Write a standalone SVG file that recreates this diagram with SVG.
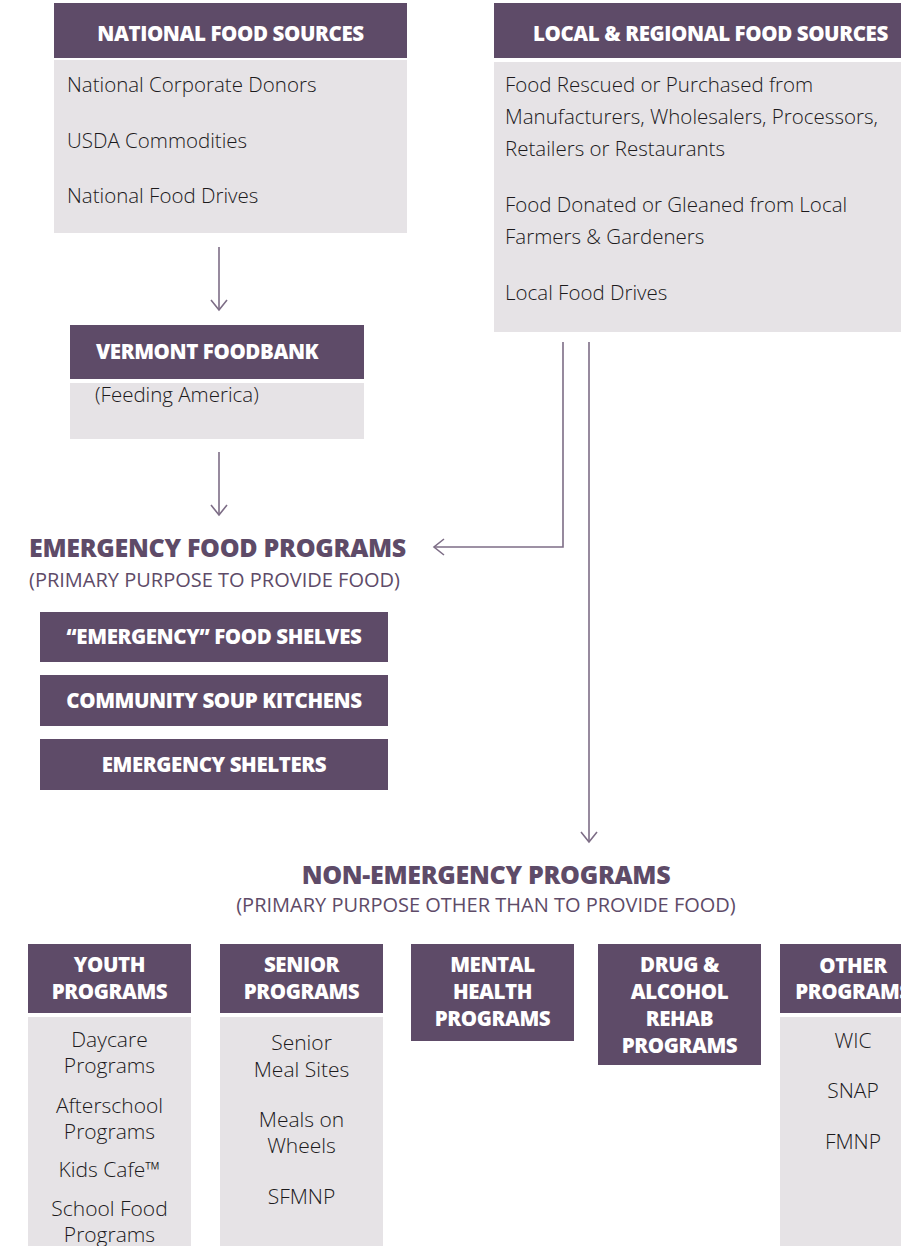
<svg xmlns="http://www.w3.org/2000/svg" width="901" height="1246" viewBox="0 0 901 1246">
<defs>
<style>
.hd{fill:#5e4b68}
.bd{fill:#e6e3e6}
.ht{font-family:"Open Sans","Liberation Sans",sans-serif;font-weight:800;font-size:20.5px;fill:#ffffff;letter-spacing:-0.4px}
.htc{text-anchor:middle}
.bt{font-family:"Open Sans","Liberation Sans",sans-serif;font-weight:300;font-size:20.5px;fill:#1c1a1c}
.bs{font-size:21px}
.btc{text-anchor:middle}
.title{font-family:"Open Sans","Liberation Sans",sans-serif;font-weight:800;font-size:25px;fill:#5e4b68;letter-spacing:-0.3px}
.sub{font-family:"Open Sans","Liberation Sans",sans-serif;font-weight:400;font-size:20px;fill:#5e4b68}
.conn{fill:none;stroke:#7d6d86;stroke-width:1.6}
</style>
<marker id="arr" markerUnits="userSpaceOnUse" viewBox="-12 -10 14 20" refX="0" refY="0" markerWidth="14" markerHeight="20" orient="auto">
<path d="M-10,-8 L0,0 L-10,8" fill="none" stroke="#7d6d86" stroke-width="1.6"/>
</marker>
</defs>
<rect width="901" height="1246" fill="#ffffff"/>

<g id="national">
<rect class="hd" x="54" y="3" width="353" height="55"/>
<rect class="bd" x="54" y="60" width="353" height="173"/>
<text class="ht htc" x="230.5" y="41">NATIONAL FOOD SOURCES</text>
<text class="bt" x="67" y="92">National Corporate Donors</text>
<text class="bt" x="67" y="148">USDA Commodities</text>
<text class="bt" x="67" y="203">National Food Drives</text>
</g>

<g id="local">
<rect class="hd" x="494" y="3" width="407" height="55"/>
<rect class="bd" x="494" y="62" width="407" height="270"/>
<text class="ht" x="533" y="41">LOCAL &amp; REGIONAL FOOD SOURCES</text>
<text class="bt" x="505" y="92">Food Rescued or Purchased from</text>
<text class="bt" x="505" y="124">Manufacturers, Wholesalers, Processors,</text>
<text class="bt" x="505" y="156">Retailers or Restaurants</text>
<text class="bt" x="505" y="212">Food Donated or Gleaned from Local</text>
<text class="bt" x="505" y="244">Farmers &amp; Gardeners</text>
<text class="bt" x="505" y="300">Local Food Drives</text>
</g>

<g id="vermont">
<rect class="hd" x="70" y="325" width="294" height="54"/>
<rect class="bd" x="70" y="383" width="294" height="56"/>
<text class="ht" x="96" y="359">VERMONT FOODBANK</text>
<text class="bt" x="95" y="402">(Feeding America)</text>
</g>

<g id="emergency">
<text class="title" x="29" y="557">EMERGENCY FOOD PROGRAMS</text>
<text class="sub" x="29" y="587">(PRIMARY PURPOSE TO PROVIDE FOOD)</text>
</g>

<g id="food-shelves">
<rect class="hd" x="40" y="612" width="348" height="50"/>
<text class="ht htc" x="214" y="644">“EMERGENCY” FOOD SHELVES</text>
</g>
<g id="soup-kitchens">
<rect class="hd" x="40" y="675" width="348" height="51"/>
<text class="ht htc" x="214" y="708">COMMUNITY SOUP KITCHENS</text>
</g>
<g id="shelters">
<rect class="hd" x="40" y="739" width="348" height="51"/>
<text class="ht htc" x="214" y="772">EMERGENCY SHELTERS</text>
</g>

<g id="non-emergency">
<text class="title" x="486" y="884" text-anchor="middle">NON-EMERGENCY PROGRAMS</text>
<text class="sub" x="486" y="912" text-anchor="middle">(PRIMARY PURPOSE OTHER THAN TO PROVIDE FOOD)</text>
</g>

<g id="youth">
<rect class="hd" x="28" y="944" width="163" height="69"/>
<rect class="bd" x="28" y="1017" width="163" height="229"/>
<text class="ht htc" x="109.5" y="972">YOUTH</text>
<text class="ht htc" x="109.5" y="999">PROGRAMS</text>
<text class="bt bs btc" x="109.5" y="1047">Daycare</text>
<text class="bt bs btc" x="109.5" y="1073">Programs</text>
<text class="bt bs btc" x="109.5" y="1113">Afterschool</text>
<text class="bt bs btc" x="109.5" y="1139">Programs</text>
<text class="bt bs btc" x="109.5" y="1177">Kids Cafe™</text>
<text class="bt bs btc" x="109.5" y="1216">School Food</text>
<text class="bt bs btc" x="109.5" y="1242">Programs</text>
</g>

<g id="senior">
<rect class="hd" x="220" y="944" width="163" height="69"/>
<rect class="bd" x="220" y="1017" width="163" height="229"/>
<text class="ht htc" x="301.5" y="972">SENIOR</text>
<text class="ht htc" x="301.5" y="999">PROGRAMS</text>
<text class="bt bs btc" x="301.5" y="1050">Senior</text>
<text class="bt bs btc" x="301.5" y="1077">Meal Sites</text>
<text class="bt bs btc" x="301.5" y="1127">Meals on</text>
<text class="bt bs btc" x="301.5" y="1153">Wheels</text>
<text class="bt bs btc" x="301.5" y="1204">SFMNP</text>
</g>

<g id="mental">
<rect class="hd" x="411" y="944" width="163" height="97"/>
<text class="ht htc" x="492.5" y="972">MENTAL</text>
<text class="ht htc" x="492.5" y="999">HEALTH</text>
<text class="ht htc" x="492.5" y="1026">PROGRAMS</text>
</g>

<g id="drug">
<rect class="hd" x="598" y="944" width="163" height="121"/>
<text class="ht htc" x="679.5" y="972">DRUG &amp;</text>
<text class="ht htc" x="679.5" y="999">ALCOHOL</text>
<text class="ht htc" x="679.5" y="1026">REHAB</text>
<text class="ht htc" x="679.5" y="1053">PROGRAMS</text>
</g>

<g id="other">
<rect class="hd" x="780" y="944" width="121" height="69"/>
<rect class="bd" x="780" y="1017" width="121" height="229"/>
<text class="ht htc" x="853" y="973">OTHER</text>
<text class="ht htc" x="853" y="999">PROGRAMS</text>
<text class="bt bs btc" x="853" y="1048">WIC</text>
<text class="bt bs btc" x="853" y="1098">SNAP</text>
<text class="bt bs btc" x="853" y="1149">FMNP</text>
</g>

<g id="connectors">
<path class="conn" d="M219,247 V310" marker-end="url(#arr)"/>
<path class="conn" d="M219,452 V515" marker-end="url(#arr)"/>
<path class="conn" d="M563,342 V547 H434" marker-end="url(#arr)"/>
<path class="conn" d="M589,342 V842" marker-end="url(#arr)"/>
</g>
</svg>
